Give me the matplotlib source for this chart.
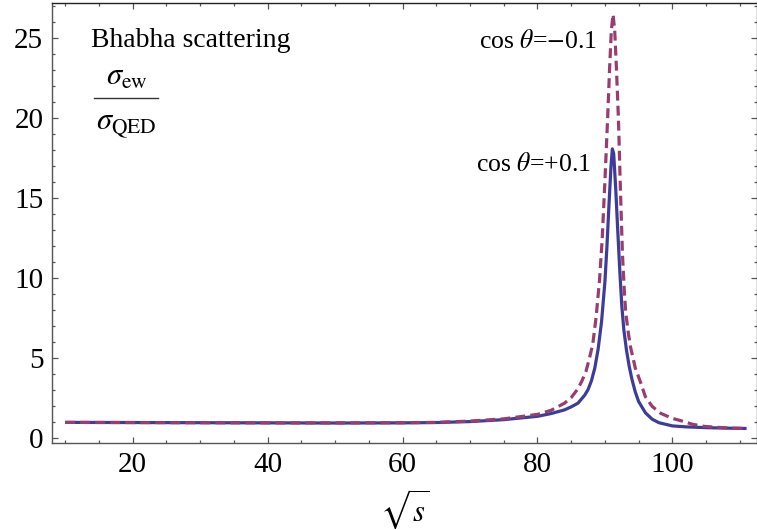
import matplotlib
matplotlib.use("Agg")
import matplotlib.pyplot as plt
from matplotlib.lines import Line2D
from matplotlib.ticker import MultipleLocator

plt.rcParams['font.family'] = ['Liberation Serif', 'DejaVu Serif']
plt.rcParams['mathtext.fontset'] = 'stix'

# cos theta = +0.1 (solid)
x_pos = [10, 20, 30, 40, 50, 60, 65, 70, 75, 80, 82, 84, 85, 86, 86.5, 87, 87.5, 88,
         88.5, 89, 89.5, 90, 90.3, 90.6, 90.9, 91.1, 91.3, 91.6, 91.9, 92.2, 92.5,
         92.8, 93.2, 93.6, 94, 94.5, 95, 96, 97, 98, 100, 102, 105, 108, 111]
y_pos = [1.0, 0.99, 0.98, 0.97, 0.96, 0.97, 0.99, 1.05, 1.17, 1.38, 1.55, 1.78, 1.97, 2.2, 2.45,
         2.7, 3.05, 3.6, 4.4, 5.6, 7.3, 9.8, 12.0, 14.6, 17.0, 18.1, 17.8, 15.6, 13.0, 10.5, 8.3,
         6.8, 5.5, 4.5, 3.7, 2.9, 2.3, 1.6, 1.2, 0.98, 0.78, 0.72, 0.67, 0.64, 0.62]

# cos theta = -0.1 (dashed)
x_neg = [10, 20, 30, 40, 50, 60, 65, 70, 75, 80, 82, 84, 85, 86, 86.6, 87.2, 87.7, 88.2,
         88.7, 89.2, 89.6, 90.0, 90.4, 90.7, 90.95, 91.2, 91.45, 91.7, 92.0, 92.3, 92.6,
         92.9, 93.1, 93.5, 93.8, 94.5, 95.2, 96, 97, 98.3, 100, 101.3, 103, 104.7, 107, 109, 111]
y_neg = [1.0, 0.99, 0.98, 0.97, 0.97, 0.98, 1.0, 1.08, 1.22, 1.5, 1.75, 2.2, 2.55, 3.1, 3.6,
         4.2, 5.0, 5.9, 7.6, 9.9, 12.5, 16.1, 20.0, 23.2, 25.5, 26.5, 25.5, 23.2, 20.0, 15.5, 11.5,
         9.0, 7.8, 6.5, 5.7, 4.4, 3.6, 2.6, 2.0, 1.56, 1.25, 1.1, 0.88, 0.75, 0.68, 0.64, 0.62]

label_pos = r'cos $\mathit{\theta}$=+0.1'
label_neg = r'cos $\mathit{\theta}$=$-$0.1'

blue = '#3D3D99'
purple = '#993D71'
frame = '#555555'

fig = plt.figure(figsize=(7.57, 5.30), dpi=100)
ax = fig.add_axes([51.7/757, (530-442.7)/530, (757.4-51.7)/757, (442.7-3.3)/530])

ax.plot(x_pos, y_pos, color=blue, lw=2.3, solid_capstyle='butt')
ax.plot(x_neg, y_neg, color=purple, lw=2.3, dashes=(3.1, 1.6))

ax.set_xlim(8.0, 112.6)
ax.set_ylim(-0.27, 27.2)
ax.xaxis.set_major_locator(MultipleLocator(20))
ax.xaxis.set_minor_locator(MultipleLocator(5))
ax.yaxis.set_major_locator(MultipleLocator(5))
ax.yaxis.set_minor_locator(MultipleLocator(1))
ax.tick_params(which='both', direction='in', top=True, right=True, color=frame, width=0.9)
ax.tick_params(which='major', length=4.5, labelsize=21, pad=6)
ax.tick_params(which='minor', length=2.5)
ax.tick_params(axis='x', which='major', pad=7)
for sp in ax.spines.values():
    sp.set_color(frame)
    sp.set_linewidth(1.0)
ax.spines['top'].set_color('#222222')

ax.set_xlabel(r'$\sqrt{s}$', fontsize=22, labelpad=6)

fig.text(91/757, 1 - 47/530, 'Bhabha scattering', fontsize=20, ha='left', va='baseline')
fig.text(127/757, 1 - 85/530, r'$\sigma_{\mathrm{ew}}$', fontsize=22, ha='center', va='baseline')
fig.text(126/757, 1 - 130/530, r'$\sigma_{\mathrm{QED}}$', fontsize=22, ha='center', va='baseline')
fig.add_artist(Line2D([94/757, 158/757], [1 - 97.7/530, 1 - 97.7/530],
                      transform=fig.transFigure, color='#333333', lw=1.0))

fig.text(597/757, 1 - 48/530, label_neg, fontsize=18.5, ha='right', va='baseline')
fig.text(591/757, 1 - 171/530, label_pos, fontsize=18.5, ha='right', va='baseline')

fig.savefig('out.png', dpi=100)
